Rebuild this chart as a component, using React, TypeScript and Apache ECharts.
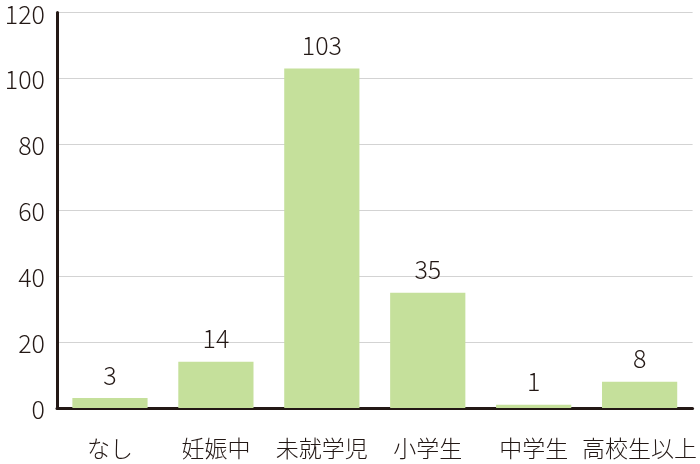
import React, { useEffect, useRef } from 'react'
import * as echarts from 'echarts'

const categories = ['なし', '妊娠中', '未就学児', '小学生', '中学生', '高校生以上']
const counts = [3, 14, 103, 35, 1, 8]
const yTicks = { min: 0, max: 120, interval: 20 }

const FONT = '"Noto Sans CJK JP", "Noto Sans", sans-serif'
const INK = '#231815'

const App: React.FC = () => {
  const chartRef = useRef<HTMLDivElement>(null)

  useEffect(() => {
    if (!chartRef.current) return
    const chart = echarts.init(chartRef.current, undefined, { renderer: 'svg' })

    const option = {
      animation: false,
      textStyle: { fontFamily: FONT },
      grid: { left: 57, right: 6, top: 12, bottom: 56 },
      xAxis: {
        type: 'category',
        data: categories,
        axisLine: { lineStyle: { color: INK, width: 3 } },
        axisTick: { show: false },
        axisLabel: { color: INK, fontSize: 23, fontWeight: 300, margin: 27, fontFamily: FONT, interval: 0 }
      },
      yAxis: {
        type: 'value',
        min: yTicks.min,
        max: yTicks.max,
        interval: yTicks.interval,
        axisLine: { show: true, lineStyle: { color: INK, width: 3 } },
        axisTick: { show: false },
        splitLine: { lineStyle: { color: '#d3d3d3', width: 1 } },
        axisLabel: { color: INK, fontSize: 25, fontWeight: 300, lineHeight: 22, margin: 12, fontFamily: FONT }
      },
      series: [
        {
          type: 'bar',
          data: counts,
          barWidth: '71%',
          itemStyle: { color: '#c5e09b' },
          label: {
            show: true,
            position: 'top',
            distance: 12,
            color: INK,
            fontSize: 25,
            fontWeight: 300,
            fontFamily: FONT
          }
        }
      ]
    }

    chart.setOption(option)
    return () => {
      chart.dispose()
    }
  }, [])

  return (
    <div
      ref={chartRef}
      style={{ position: 'fixed', left: 0, top: 0, width: 700, height: 464 }}
    />
  )
}

export default App
